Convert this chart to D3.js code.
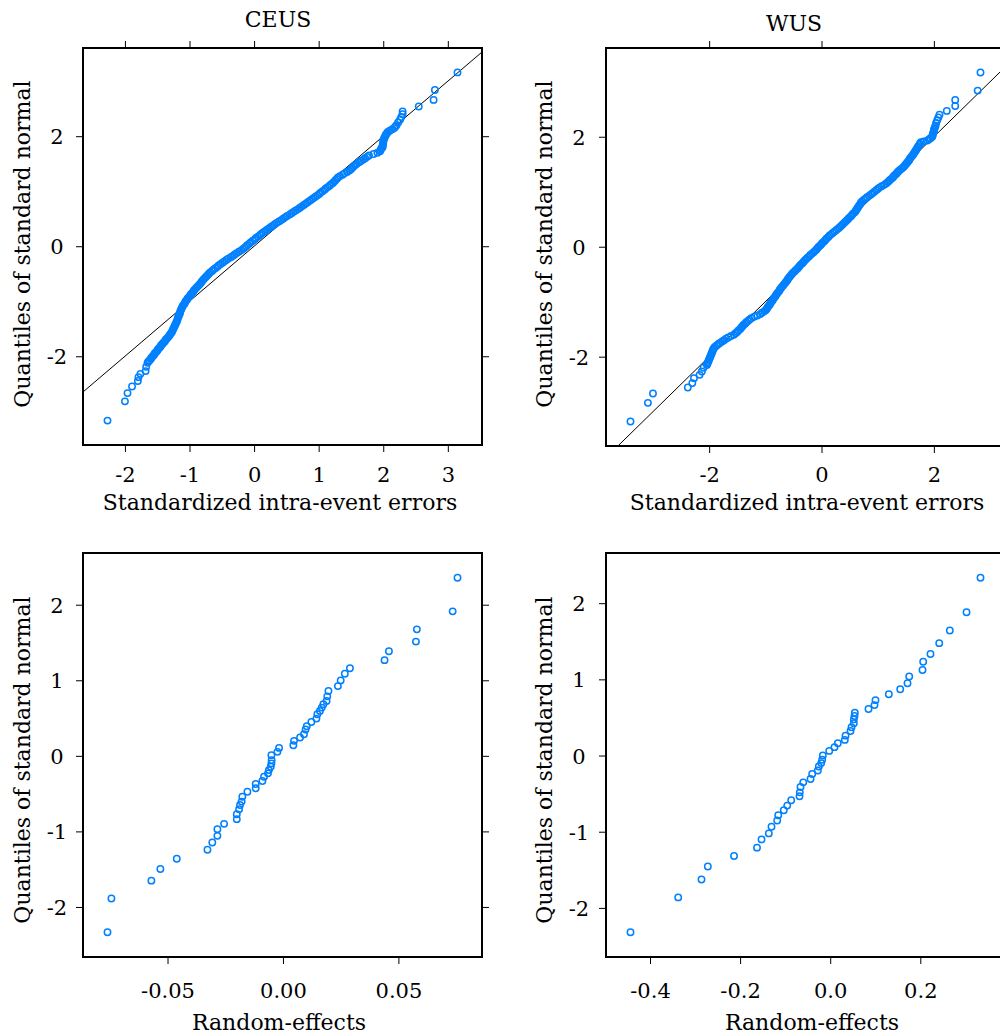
<!DOCTYPE html>
<html>
<head>
<meta charset="utf-8">
<script src="https://cdn.jsdelivr.net/npm/d3@7"></script>
<style>
  html, body { margin: 0; padding: 0; background: #fff; }
  svg { display: block; }
  text { font-family: "DejaVu Serif", serif; fill: #000; }
</style>
</head>
<body>
<svg id="chart" width="1000" height="1036"></svg>
<script>
// Normal QQ plots of standardized intra-event errors and random effects (CEUS / WUS).
// Each pair is [sample value, quantile of standard normal].

const ceusIntra = [
  [-2.27,-3.17],[-2.00,-2.82],[-1.96,-2.67],[-1.89,-2.55],[-1.80,-2.45],[-1.79,-2.38],[-1.76,-2.32],[-1.68,-2.27],[-1.67,-2.19],[-1.65,-2.12],
  [-1.64,-2.100],[-1.62,-2.075],[-1.60,-2.050],[-1.59,-2.025],[-1.57,-2.000],[-1.55,-1.975],[-1.54,-1.950],[-1.52,-1.925],[-1.50,-1.900],[-1.49,-1.875],
  [-1.47,-1.850],[-1.45,-1.825],[-1.44,-1.800],[-1.42,-1.775],[-1.40,-1.750],[-1.38,-1.725],[-1.37,-1.700],[-1.35,-1.675],[-1.33,-1.650],[-1.31,-1.625],
  [-1.30,-1.600],[-1.28,-1.575],[-1.27,-1.550],[-1.26,-1.525],[-1.25,-1.500],[-1.24,-1.475],[-1.23,-1.450],[-1.22,-1.425],[-1.21,-1.400],[-1.20,-1.375],
  [-1.19,-1.350],[-1.185,-1.325],[-1.18,-1.300],[-1.17,-1.275],[-1.16,-1.250],[-1.15,-1.225],[-1.145,-1.200],[-1.14,-1.175],[-1.13,-1.150],[-1.12,-1.125],
  [-1.11,-1.100],[-1.10,-1.075],[-1.08,-1.050],[-1.07,-1.025],[-1.06,-1.000],[-1.04,-0.975],[-1.03,-0.950],[-1.01,-0.925],[-0.99,-0.900],[-0.98,-0.875],
  [-0.96,-0.850],[-0.94,-0.825],[-0.93,-0.800],[-0.91,-0.775],[-0.89,-0.750],[-0.87,-0.725],[-0.85,-0.700],[-0.83,-0.675],[-0.815,-0.650],[-0.80,-0.625],
  [-0.78,-0.600],[-0.76,-0.575],[-0.74,-0.550],[-0.72,-0.525],[-0.70,-0.500],[-0.68,-0.475],[-0.65,-0.450],[-0.63,-0.425],[-0.60,-0.400],[-0.57,-0.375],
  [-0.55,-0.350],[-0.52,-0.325],[-0.49,-0.300],[-0.46,-0.275],[-0.43,-0.250],[-0.40,-0.225],[-0.36,-0.200],[-0.33,-0.175],[-0.30,-0.150],[-0.27,-0.125],
  [-0.235,-0.100],[-0.20,-0.075],[-0.17,-0.050],[-0.145,-0.025],[-0.12,0.000],[-0.10,0.025],[-0.07,0.050],[-0.05,0.075],[-0.02,0.100],[0.01,0.125],
  [0.03,0.150],[0.06,0.175],[0.09,0.200],[0.11,0.225],[0.14,0.250],[0.17,0.275],[0.20,0.300],[0.23,0.325],[0.26,0.350],[0.29,0.375],
  [0.32,0.400],[0.35,0.425],[0.385,0.450],[0.42,0.475],[0.45,0.500],[0.48,0.525],[0.51,0.550],[0.55,0.575],[0.58,0.600],[0.61,0.625],
  [0.645,0.650],[0.68,0.675],[0.71,0.700],[0.74,0.725],[0.77,0.750],[0.80,0.775],[0.83,0.800],[0.86,0.825],[0.89,0.850],[0.92,0.875],
  [0.95,0.900],[0.98,0.925],[1.01,0.950],[1.03,0.975],[1.06,1.000],[1.09,1.025],[1.11,1.050],[1.14,1.075],[1.17,1.100],[1.19,1.125],
  [1.22,1.150],[1.24,1.175],[1.26,1.200],[1.28,1.225],[1.30,1.250],[1.33,1.275],[1.37,1.300],[1.40,1.325],[1.44,1.350],[1.475,1.375],
  [1.50,1.400],[1.52,1.425],[1.54,1.450],[1.565,1.475],[1.59,1.500],[1.625,1.525],[1.655,1.550],[1.69,1.575],[1.72,1.600],[1.75,1.625],
  [1.78,1.650],[1.85,1.675],[1.91,1.700],[1.95,1.725],[1.96,1.750],[1.97,1.775],[1.99,1.800],[1.99,1.825],[1.995,1.850],[2.00,1.875],
  [2.00,1.900],[2.005,1.925],[2.01,1.950],[2.02,1.975],[2.03,2.000],[2.04,2.025],[2.055,2.050],[2.07,2.075],[2.10,2.100],[2.14,2.125],
  [2.17,2.150],[2.19,2.175],[2.205,2.200],[2.23,2.250],[2.26,2.300],[2.28,2.350],[2.30,2.400],[2.30,2.450],
  [2.55,2.54],[2.78,2.66],[2.80,2.84],[3.15,3.16]
];

const wusIntra = [
  [-3.40,-3.18],[-3.09,-2.84],[-3.00,-2.67],[-2.38,-2.56],[-2.30,-2.48],[-2.27,-2.39],[-2.17,-2.33],[-2.13,-2.27],[-2.10,-2.20],
  [-2.04,-2.150],[-2.03,-2.125],[-2.02,-2.100],[-2.01,-2.075],[-2.00,-2.050],[-1.99,-2.025],[-1.98,-2.000],[-1.97,-1.975],[-1.96,-1.950],[-1.95,-1.925],
  [-1.94,-1.900],[-1.93,-1.875],[-1.92,-1.850],[-1.90,-1.825],[-1.87,-1.800],[-1.84,-1.775],[-1.81,-1.750],[-1.77,-1.725],[-1.735,-1.700],[-1.70,-1.675],
  [-1.66,-1.650],[-1.61,-1.625],[-1.56,-1.600],[-1.53,-1.575],[-1.50,-1.550],[-1.48,-1.525],[-1.45,-1.500],[-1.43,-1.475],[-1.41,-1.450],[-1.39,-1.425],
  [-1.36,-1.400],[-1.34,-1.375],[-1.31,-1.350],[-1.28,-1.325],[-1.25,-1.300],[-1.20,-1.275],[-1.14,-1.250],[-1.09,-1.225],[-1.06,-1.200],[-1.02,-1.175],
  [-0.99,-1.150],[-0.97,-1.125],[-0.96,-1.100],[-0.94,-1.075],[-0.92,-1.050],[-0.91,-1.025],[-0.89,-1.000],[-0.87,-0.975],[-0.86,-0.950],[-0.84,-0.925],
  [-0.82,-0.900],[-0.81,-0.875],[-0.79,-0.850],[-0.77,-0.825],[-0.75,-0.800],[-0.74,-0.775],[-0.72,-0.750],[-0.70,-0.725],[-0.68,-0.700],[-0.66,-0.675],
  [-0.64,-0.650],[-0.62,-0.625],[-0.605,-0.600],[-0.59,-0.575],[-0.57,-0.550],[-0.55,-0.525],[-0.53,-0.500],[-0.51,-0.475],[-0.48,-0.450],[-0.46,-0.425],
  [-0.43,-0.400],[-0.41,-0.375],[-0.39,-0.350],[-0.37,-0.325],[-0.34,-0.300],[-0.32,-0.275],[-0.30,-0.250],[-0.275,-0.225],[-0.25,-0.200],[-0.22,-0.175],
  [-0.20,-0.150],[-0.17,-0.125],[-0.14,-0.100],[-0.115,-0.075],[-0.09,-0.050],[-0.07,-0.025],[-0.05,0.000],[-0.02,0.025],[0.00,0.050],[0.02,0.075],
  [0.05,0.100],[0.07,0.125],[0.09,0.150],[0.12,0.175],[0.14,0.200],[0.17,0.225],[0.20,0.250],[0.23,0.275],[0.26,0.300],[0.29,0.325],
  [0.32,0.350],[0.345,0.375],[0.37,0.400],[0.395,0.425],[0.42,0.450],[0.445,0.475],[0.47,0.500],[0.49,0.525],[0.52,0.550],[0.54,0.575],
  [0.56,0.600],[0.59,0.625],[0.61,0.650],[0.62,0.675],[0.64,0.700],[0.655,0.725],[0.67,0.750],[0.69,0.775],[0.70,0.800],[0.72,0.825],
  [0.75,0.850],[0.78,0.875],[0.81,0.900],[0.845,0.925],[0.88,0.950],[0.91,0.975],[0.94,1.000],[0.97,1.025],[1.00,1.050],[1.03,1.075],
  [1.07,1.100],[1.115,1.125],[1.15,1.150],[1.18,1.175],[1.205,1.200],[1.23,1.225],[1.26,1.250],[1.28,1.275],[1.30,1.300],[1.33,1.325],
  [1.35,1.350],[1.37,1.375],[1.40,1.400],[1.43,1.425],[1.46,1.450],[1.48,1.475],[1.50,1.500],[1.52,1.525],[1.54,1.550],[1.56,1.575],
  [1.57,1.600],[1.59,1.625],[1.61,1.650],[1.63,1.675],[1.645,1.700],[1.66,1.725],[1.68,1.750],[1.69,1.775],[1.71,1.800],[1.72,1.825],
  [1.74,1.850],[1.75,1.875],[1.77,1.900],[1.82,1.915],[1.88,1.930],[1.91,1.950],[1.94,1.975],[1.97,2.000],[1.98,2.025],[1.98,2.050],
  [1.99,2.075],[2.00,2.100],[2.00,2.125],[2.01,2.150],[2.02,2.175],[2.03,2.200],[2.04,2.250],[2.06,2.300],[2.08,2.350],[2.10,2.400],
  [2.23,2.47],[2.38,2.56],[2.38,2.67],[2.78,2.84],[2.83,3.17]
];

const ceusRandom = [
  [-0.0760,-2.334],[-0.0743,-1.889],[-0.0570,-1.652],[-0.0531,-1.498],[-0.0460,-1.362],[-0.0327,-1.243],[-0.0306,-1.147],[-0.0284,-1.059],[-0.0284,-0.970],
  [-0.0255,-0.900],[-0.0200,-0.838],[-0.0200,-0.773],[-0.0190,-0.707],[-0.0186,-0.650],[-0.0179,-0.606],[-0.0176,-0.541],[-0.0154,-0.475],[-0.0118,-0.430],
  [-0.0118,-0.373],[-0.0089,-0.334],[-0.0082,-0.277],[-0.0065,-0.232],[-0.0061,-0.189],[-0.0053,-0.145],[-0.0050,-0.100],[-0.0049,-0.057],[-0.0050,0.009],
  [-0.0024,0.053],[-0.0017,0.105],[0.0045,0.141],[0.0048,0.198],[0.0074,0.243],[0.0091,0.286],[0.0098,0.348],[0.0103,0.392],[0.0123,0.448],
  [0.0145,0.493],[0.0149,0.550],[0.0160,0.593],[0.0168,0.638],[0.0175,0.682],[0.0189,0.725],[0.0192,0.787],[0.0197,0.857],[0.0238,0.923],
  [0.0250,0.998],[0.0268,1.086],[0.0290,1.160],[0.0440,1.266],[0.0459,1.384],[0.0576,1.512],[0.0580,1.674],[0.0735,1.912],[0.0756,2.356]
];

const wusRandom = [
  [-0.4433,-2.319],[-0.3374,-1.862],[-0.2857,-1.627],[-0.2717,-1.457],[-0.2135,-1.319],[-0.1625,-1.209],[-0.1525,-1.101],[-0.1363,-1.022],[-0.1303,-0.935],
  [-0.1176,-0.852],[-0.1154,-0.783],[-0.1030,-0.718],[-0.0954,-0.657],[-0.0866,-0.587],[-0.0681,-0.535],[-0.0675,-0.483],[-0.0659,-0.413],[-0.0599,-0.352],
  [-0.0437,-0.308],[-0.0400,-0.243],[-0.0275,-0.196],[-0.0253,-0.144],[-0.0200,-0.099],[-0.0178,-0.056],[-0.0164,0.000],[-0.0022,0.061],[0.0095,0.110],
  [0.0169,0.162],[0.0324,0.205],[0.0340,0.261],[0.0451,0.322],[0.0473,0.371],[0.0524,0.423],[0.0524,0.475],[0.0539,0.518],[0.0546,0.561],
  [0.0850,0.610],[0.0983,0.662],[0.1005,0.727],[0.1301,0.805],[0.1554,0.871],[0.1716,0.949],[0.1754,1.037],[0.2049,1.123],[0.2064,1.232],
  [0.2226,1.332],[0.2420,1.475],[0.2655,1.641],[0.3026,1.880],[0.3336,2.333]
];

// Tick values and their printed labels
const ceusIntraXTicks = [-2, -1, 0, 1, 2, 3];
const ceusIntraXLabels = ["-2", "-1", "0", "1", "2", "3"];
const wusIntraXTicks = [-2, 0, 2];
const wusIntraXLabels = ["-2", "0", "2"];
const intraYTicks = [-2, 0, 2];
const intraYLabels = ["-2", "0", "2"];
const ceusRandomXTicks = [-0.05, 0, 0.05];
const ceusRandomXLabels = ["-0.05", "0.00", "0.05"];
const wusRandomXTicks = [-0.4, -0.2, 0, 0.2];
const wusRandomXLabels = ["-0.4", "-0.2", "0.0", "0.2"];
const randomYTicks = [-2, -1, 0, 1, 2];
const randomYLabels = ["-2", "-1", "0", "1", "2"];

const titles = ["CEUS", "WUS"];
const yTitle = "Quantiles of standard normal";
const intraXTitle = "Standardized intra-event errors";
const randomXTitle = "Random-effects";

// Layout
const PAD = 0.07;          // axis padding around the data range
const TICK = 7;
const COLOR = "#0080ff";
const FONT_TICK = 21;
const FONT_TITLE = 22;

const panels = [
  { data: ceusIntra, x0: 83, x1: 482, y0: 48, y1: 445,
    xTicks: ceusIntraXTicks, xLabels: ceusIntraXLabels, yTicks: intraYTicks, yLabels: intraYLabels,
    refLine: true, topTicks: true, title: titles[0], titleX: 278, titleY: 27,
    xTitle: intraXTitle, xTitleX: 280, xTickBase: 482, xTitleBase: 510, yTitleX: 30, yTitleY: 244, yLabelX: 57 },
  { data: wusIntra, x0: 606, x1: 1005, y0: 48, y1: 446,
    xTicks: wusIntraXTicks, xLabels: wusIntraXLabels, yTicks: intraYTicks, yLabels: intraYLabels,
    refLine: true, topTicks: true, title: titles[1], titleX: 794, titleY: 31,
    xTitle: intraXTitle, xTitleX: 807, xTickBase: 482, xTitleBase: 510, yTitleX: 552, yTitleY: 244, yLabelX: 579 },
  { data: ceusRandom, x0: 83, x1: 482, y0: 553, y1: 957,
    xTicks: ceusRandomXTicks, xLabels: ceusRandomXLabels, yTicks: randomYTicks, yLabels: randomYLabels,
    refLine: false, topTicks: false,
    xTitle: randomXTitle, xTitleX: 279, xTickBase: 998, xTitleBase: 1030, yTitleX: 30, yTitleY: 760, yLabelX: 57 },
  { data: wusRandom, x0: 606, x1: 1005, y0: 553, y1: 957,
    xTicks: wusRandomXTicks, xLabels: wusRandomXLabels, yTicks: randomYTicks, yLabels: randomYLabels,
    refLine: false, topTicks: false,
    xTitle: randomXTitle, xTitleX: 812, xTickBase: 998, xTitleBase: 1030, yTitleX: 552, yTitleY: 760, yLabelX: 579 }
];

const svg = d3.select("#chart");

function padded(values) {
  const [lo, hi] = d3.extent(values);
  const p = (hi - lo) * PAD;
  return [lo - p, hi + p];
}

function styleAxis(g) {
  g.select(".domain").remove();
  g.selectAll(".tick line").attr("stroke", "#000").attr("stroke-width", 1);
  g.attr("font-family", null).attr("font-size", FONT_TICK);
}

panels.forEach((p, idx) => {
  const x = d3.scaleLinear().domain(padded(p.data.map(d => d[0]))).range([p.x0, p.x1]);
  const y = d3.scaleLinear().domain(padded(p.data.map(d => d[1]))).range([p.y1, p.y0]);

  const clipId = "clip" + idx;
  svg.append("clipPath").attr("id", clipId)
    .append("rect").attr("x", p.x0).attr("y", p.y0)
    .attr("width", p.x1 - p.x0).attr("height", p.y1 - p.y0);

  const plot = svg.append("g").attr("clip-path", `url(#${clipId})`);

  // reference line y = x
  if (p.refLine) {
    const xd = x.domain();
    plot.append("path")
      .datum([[xd[0], xd[0]], [xd[1], xd[1]]])
      .attr("d", d3.line().x(d => x(d[0])).y(d => y(d[1])))
      .attr("fill", "none").attr("stroke", "#000").attr("stroke-width", 1);
  }

  plot.selectAll("circle")
    .data(p.data)
    .join("circle")
    .attr("cx", d => x(d[0]))
    .attr("cy", d => y(d[1]))
    .attr("r", 3.2)
    .attr("fill", "none")
    .attr("stroke", COLOR)
    .attr("stroke-width", 1.5);

  // bottom axis with labels
  const gb = svg.append("g").attr("transform", `translate(0,${p.y1})`)
    .call(d3.axisBottom(x).tickValues(p.xTicks).tickFormat((d, i) => p.xLabels[i]).tickSize(TICK).tickSizeOuter(0));
  styleAxis(gb);
  gb.selectAll(".tick text").attr("y", p.xTickBase - p.y1).attr("dy", null);

  // top ticks (no labels)
  if (p.topTicks) {
    const gt = svg.append("g").attr("transform", `translate(0,${p.y0})`)
      .call(d3.axisTop(x).tickValues(p.xTicks).tickFormat("").tickSize(TICK).tickSizeOuter(0));
    styleAxis(gt);
  }

  // left axis, labels centred
  const gl = svg.append("g").attr("transform", `translate(${p.x0},0)`)
    .call(d3.axisLeft(y).tickValues(p.yTicks).tickFormat((d, i) => p.yLabels[i]).tickSize(TICK).tickSizeOuter(0));
  styleAxis(gl);
  gl.selectAll(".tick text").attr("x", p.yLabelX - p.x0).attr("text-anchor", "middle").attr("dy", "0.36em");

  // right ticks
  const gr = svg.append("g").attr("transform", `translate(${p.x1},0)`)
    .call(d3.axisRight(y).tickValues(p.yTicks).tickFormat("").tickSize(TICK).tickSizeOuter(0));
  styleAxis(gr);

  // panel frame
  svg.append("rect")
    .attr("x", p.x0).attr("y", p.y0)
    .attr("width", p.x1 - p.x0).attr("height", p.y1 - p.y0)
    .attr("fill", "none").attr("stroke", "#000").attr("stroke-width", 2);

  if (p.title) {
    svg.append("text").attr("x", p.titleX).attr("y", p.titleY)
      .attr("text-anchor", "middle").attr("font-size", FONT_TITLE).text(p.title);
  }

  svg.append("text").attr("x", p.xTitleX).attr("y", p.xTitleBase)
    .attr("text-anchor", "middle").attr("font-size", FONT_TITLE).text(p.xTitle);

  svg.append("text")
    .attr("transform", `translate(${p.yTitleX},${p.yTitleY}) rotate(-90)`)
    .attr("text-anchor", "middle").attr("font-size", FONT_TITLE).text(yTitle);
});
</script>
</body>
</html>
